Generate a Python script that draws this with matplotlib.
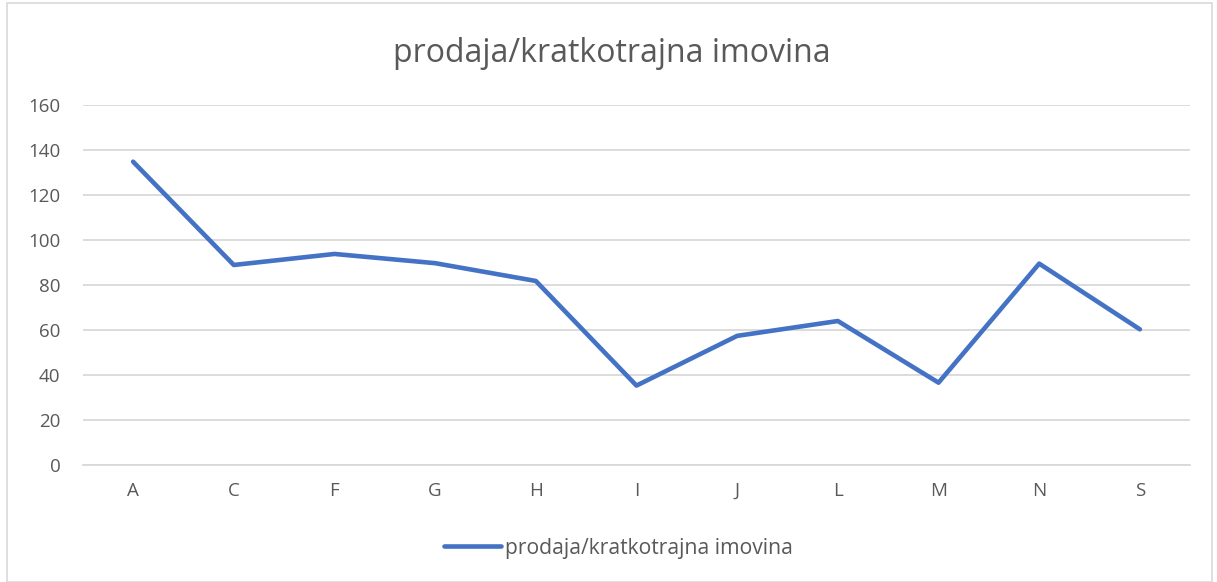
import matplotlib.pyplot as plt
from matplotlib.patches import Rectangle

categories = ['A', 'C', 'F', 'G', 'H', 'I', 'J', 'L', 'M', 'N', 'S']
values = [134.8, 88.9, 93.8, 89.7, 81.8, 35.3, 57.4, 64.0, 36.6, 89.5, 60.3]
series_name = 'prodaja/kratkotrajna imovina'
yticks = [0, 20, 40, 60, 80, 100, 120, 140, 160]

plt.rcParams['font.family'] = ['Open Sans', 'DejaVu Sans']
text_color = '#595959'

fig = plt.figure(figsize=(12.17, 5.82), dpi=100)
ax = fig.add_axes([0.068, 0.201, 0.910, 0.6186])

x = list(range(len(categories)))
ax.plot(x, values, color='#4472C4', linewidth=3.3, solid_capstyle='round',
        solid_joinstyle='round', label=series_name)

ax.set_xlim(-0.5, len(categories) - 0.5)
ax.set_ylim(0, 160)
ax.set_yticks(yticks)
ax.set_xticks(x)
ax.set_xticklabels(categories)
ax.grid(axis='y', color='#D9D9D9', linewidth=1.3)
ax.set_axisbelow(True)
for s in ['top', 'right', 'left']:
    ax.spines[s].set_visible(False)
ax.spines['bottom'].set_color('#D9D9D9')
ax.spines['bottom'].set_linewidth(1.3)
ax.tick_params(axis='both', length=0, labelsize=13.5, labelcolor=text_color)
ax.tick_params(axis='y', pad=16)
ax.tick_params(axis='x', pad=12)

fig.suptitle(series_name, x=0.503, y=0.937, fontsize=23, color=text_color)

leg = fig.legend(loc='center', bbox_to_anchor=(0.508, 0.058), frameon=False,
                 fontsize=15.2, handlelength=2.7, handletextpad=0.2)
for t in leg.get_texts():
    t.set_color(text_color)

fig.patches.append(Rectangle((0.006, 0.0), 0.99, 0.995, transform=fig.transFigure,
                             fill=False, edgecolor='#D9D9D9', linewidth=1.2))

fig.savefig('out.png', dpi=100, facecolor='white')
